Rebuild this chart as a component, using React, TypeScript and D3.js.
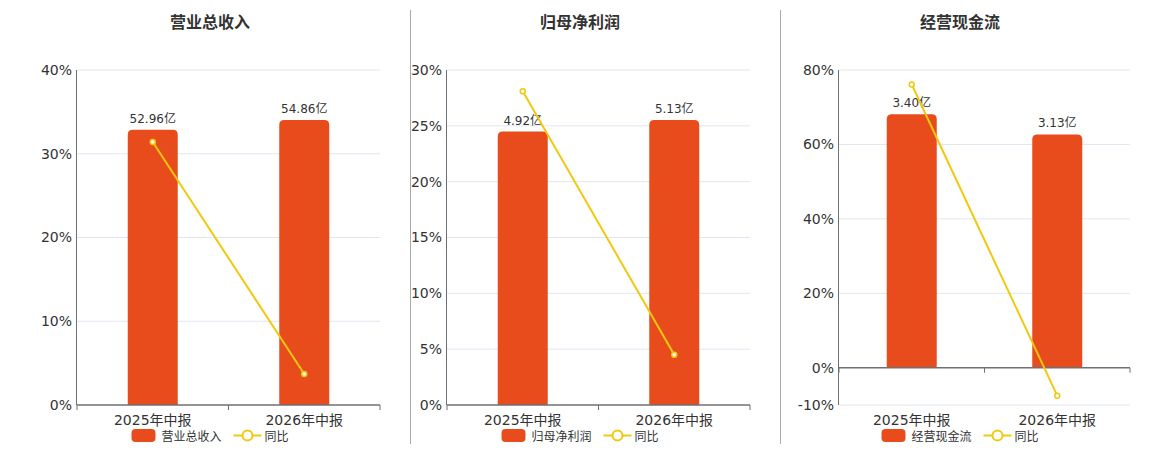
import React from "react";
import * as d3 from "d3";

const categories = ["2025年中报", "2026年中报"];

const titles = ["营业总收入", "归母净利润", "经营现金流"];
const barValues = [
  [52.96, 54.86],
  [4.92, 5.13],
  [3.4, 3.13],
];
const yoyValues = [
  [31.4, 3.7],
  [28.1, 4.5],
  [76.1, -7.5],
];
const yTicks = [
  [0, 10, 20, 30, 40],
  [0, 5, 10, 15, 20, 25, 30],
  [-10, 0, 20, 40, 60, 80],
];
const yDomains: [number, number][] = [
  [0, 40],
  [0, 30],
  [-10, 80],
];
const legendName = ["营业总收入", "归母净利润", "经营现金流"];

const layouts = [
  { left: 77, right: 380, cx: 210 },
  { left: 447, right: 750, cx: 580 },
  { left: 839, right: 1130, cx: 960 },
];
const separators = [410, 780];

const TOP = 70;
const BOTTOM = 405;
const BAR_COLOR = "#E84C1C";
const LINE_COLOR = "#F2C80F";
const AXIS_COLOR = "#6E7079";
const GRID_COLOR = "#E0E6F1";
const TEXT_COLOR = "#333";
const FONT = "'DejaVu Sans', 'Noto Sans CJK SC', sans-serif";

function Panel({ i }: { i: number }) {
  const { left, right, cx } = layouts[i];
  const y = d3.scaleLinear().domain(yDomains[i]).range([BOTTOM, TOP]);
  const x = d3.scaleBand<string>().domain(categories).range([left, right]);
  const zeroY = y(0);
  const barMax = d3.max(barValues[i])! * 1.175;
  const yBar = d3.scaleLinear().domain([0, barMax]).range([zeroY, TOP + (zeroY - BOTTOM)]);
  // bar scale: positive range equals [zeroY, TOP]
  const yB = d3.scaleLinear().domain([0, barMax]).range([zeroY, TOP]);
  void yBar;
  const barW = 50;
  const line = d3
    .line<number>()
    .x((_, k) => x(categories[k])! + x.bandwidth() / 2)
    .y((v) => y(v));

  const legendW = 24 + 6 + legendName[i].length * 12 + 12 + 28 + 3 + 24;
  const lx = cx - legendW / 2;
  const nameW = legendName[i].length * 12;

  return (
    <g>
      <text
        x={cx}
        y={28}
        textAnchor="middle"
        fontSize={16}
        fontWeight="bold"
        fill={TEXT_COLOR}
        fontFamily="'Noto Sans CJK SC', sans-serif"
      >
        {titles[i]}
      </text>
      {yTicks[i].map((t) => (
        <g key={t}>
          {t !== 0 && (
            <line x1={left} x2={right} y1={y(t)} y2={y(t)} stroke={GRID_COLOR} strokeWidth={1} />
          )}
          <text
            x={left - 5}
            y={y(t)}
            dy="0.35em"
            textAnchor="end"
            fontSize={14}
            fill={TEXT_COLOR}
            fontFamily={FONT}
          >
            {t + "%"}
          </text>
        </g>
      ))}
      <line x1={left - 0.5} x2={left - 0.5} y1={TOP} y2={BOTTOM} stroke={AXIS_COLOR} strokeWidth={1} />
      {categories.map((c, k) => {
        const v = barValues[i][k];
        const bx = x(c)! + x.bandwidth() / 2 - barW / 2;
        const by = yB(v);
        const h = zeroY - by;
        const r = 5;
        const d = `M${bx},${zeroY} V${by + r} Q${bx},${by} ${bx + r},${by} H${bx + barW - r} Q${bx + barW},${by} ${bx + barW},${by + r} V${zeroY} Z`;
        return (
          <g key={c}>
            <path d={d} fill={BAR_COLOR} />
            <text
              x={bx + barW / 2}
              y={by - 7}
              textAnchor="middle"
              fontSize={12}
              fill={TEXT_COLOR}
              fontFamily={FONT}
            >
              {v.toFixed(2) + "亿"}
            </text>
            {h < 0 ? null : null}
          </g>
        );
      })}
      <line x1={left} x2={right} y1={zeroY} y2={zeroY} stroke={AXIS_COLOR} strokeWidth={1.5} />
      {[...categories.map((c) => x(c)!), right].map((tx, k) => (
        <line key={k} x1={tx} x2={tx} y1={zeroY} y2={zeroY + 5} stroke={AXIS_COLOR} strokeWidth={1} />
      ))}
      {categories.map((c) => (
        <text
          key={c}
          x={x(c)! + x.bandwidth() / 2}
          y={425}
          textAnchor="middle"
          fontSize={14}
          fill={TEXT_COLOR}
          fontFamily={FONT}
        >
          {c}
        </text>
      ))}
      <path d={line(yoyValues[i])!} fill="none" stroke={LINE_COLOR} strokeWidth={2} />
      {yoyValues[i].map((v, k) => (
        <circle
          key={k}
          cx={x(categories[k])! + x.bandwidth() / 2}
          cy={y(v)}
          r={2.5}
          fill="#fff"
          stroke={LINE_COLOR}
          strokeWidth={1.5}
        />
      ))}
      <g>
        <rect x={lx} y={429} width={24} height={13} rx={4} fill={BAR_COLOR} />
        <text x={lx + 30} y={440.5} fontSize={12} fill={TEXT_COLOR} fontFamily={FONT}>
          {legendName[i]}
        </text>
        <line
          x1={lx + 30 + nameW + 12}
          x2={lx + 30 + nameW + 40}
          y1={435.5}
          y2={435.5}
          stroke={LINE_COLOR}
          strokeWidth={2}
        />
        <circle cx={lx + 30 + nameW + 26} cy={435.5} r={5} fill="#fff" stroke={LINE_COLOR} strokeWidth={2} />
        <text x={lx + 30 + nameW + 43} y={440.5} fontSize={12} fill={TEXT_COLOR} fontFamily={FONT}>
          同比
        </text>
      </g>
    </g>
  );
}

export default function App() {
  return (
    <svg
      width={1160}
      height={450}
      style={{ position: "absolute", left: 0, top: 0, background: "#fff" }}
    >
      {separators.map((sx) => (
        <line key={sx} x1={sx + 0.5} x2={sx + 0.5} y1={10} y2={444} stroke="#aaa" strokeWidth={1} />
      ))}
      {titles.map((_, i) => (
        <Panel key={i} i={i} />
      ))}
    </svg>
  );
}
